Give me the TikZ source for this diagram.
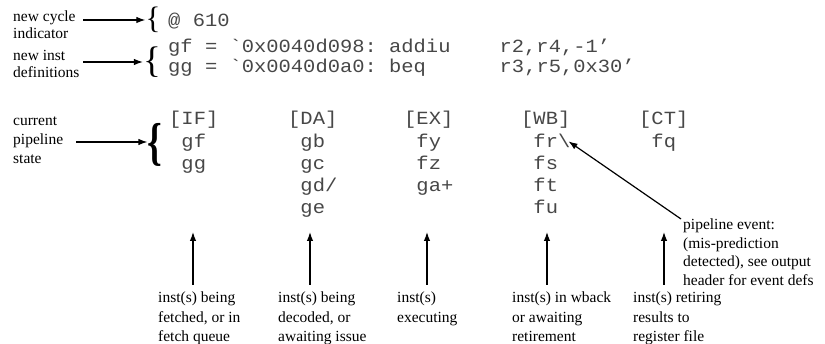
\documentclass[tikz,border=0pt]{standalone}
\usepackage{fontspec}
\setmainfont{Liberation Serif}
\setmonofont[FakeStretch=1.1]{Liberation Mono}
\usetikzlibrary{arrows.meta}
% multi-line labels are placed by the baseline of their last line
\tikzset{
  lbl/.style={anchor=base west, inner sep=0pt, align=left,
              font=\fontsize{15.5}{19.5}\selectfont},
  lbltight/.style={lbl, font=\fontsize{15.5}{17}\selectfont},
  code/.style={anchor=base west, inner sep=0pt,
               font=\ttfamily\fontsize{18.6}{22}\selectfont, text=black!72},
  ptr/.style={-{Latex[length=9pt,width=6.5pt]}, line width=1.2pt},
  brace/.style={inner sep=0pt, anchor=center},
}
\newcommand{\cell}[1]{\hphantom{[}#1}
\begin{document}
\begin{tikzpicture}[x=1pt,y=-1pt]
\useasboundingbox (0,0) rectangle (825,344);

% ---- header: cycle marker and instruction definitions
\node[lbltight] (cyc) at (13,39) {new cycle\\indicator};
\node[lbltight] (defs) at (13,78) {new inst\\definitions};
\node[brace, font=\fontsize{31}{31}\selectfont] (br1) at (153,20) {\{};
\node[brace, font=\fontsize{37}{37}\selectfont] (br2) at (152,62.5) {\{};
\node[code] (cycnum) at (168,27) {@~610};
\node[code] (defgf) at (168,53) {gf~=~`0x0040d098:~addiu~~~~r2,r4,-1’};
\node[code] (defgg) at (168,73) {gg~=~`0x0040d0a0:~beq~~~~~~r3,r5,0x30’};
\coordinate (s1) at (83,20);
\coordinate (s2) at (83,62);
\draw[ptr] (s1) -- (s1 -| br1.west);
\draw[ptr] (s2) -- (s2 -| br2.west);

% ---- current pipeline state
\node[lbl, font=\fontsize{15.5}{19}\selectfont] (cur) at (13,164) {current\\pipeline\\state};
\node[brace, font=\fontsize{52}{52}\selectfont\bfseries] (br3) at (155,145) {\scalebox{0.72}[1]{\{}};
\coordinate (s3) at (76,142);
\draw[ptr] (s3) -- (s3 -| br3.west);

% stage columns
\node[code] (hIF) at (169,125) {[IF]};
\node[code] (if1) at (169,148) {\cell{gf}};
\node[code] (if2) at (169,170) {\cell{gg}};

\node[code] (hDA) at (288,125) {[DA]};
\node[code] (da1) at (288,148) {\cell{gb}};
\node[code] (da2) at (288,170) {\cell{gc}};
\node[code] (da3) at (288,192) {\cell{gd/}};
\node[code] (da4) at (288,214) {\cell{ge}};

\node[code] (hEX) at (404,125) {[EX]};
\node[code] (ex1) at (404,148) {\cell{fy}};
\node[code] (ex2) at (404,170) {\cell{fz}};
\node[code] (ex3) at (404,192) {\cell{ga+}};

\node[code] (hWB) at (521,125) {[WB]};
\node[code] (wb1) at (521,148) {\cell{fr\textbackslash}};
\node[code] (wb2) at (521,170) {\cell{fs}};
\node[code] (wb3) at (521,192) {\cell{ft}};
\node[code] (wb4) at (521,214) {\cell{fu}};

\node[code] (hCT) at (639,125) {[CT]};
\node[code] (ct1) at (639,148) {\cell{fq}};

% ---- stage descriptions
\node[lbl] (lIF) at (158,342) {inst(s) being\\fetched, or in\\fetch queue};
\node[lbl] (lDA) at (278,342) {inst(s) being\\decoded, or\\awaiting issue};
\node[lbl] (lEX) at (397,322.5) {inst(s)\\executing};
\node[lbl] (lWB) at (512,342) {inst(s) in wback\\or awaiting\\retirement};
\node[lbl] (lCT) at (633,342) {inst(s) retiring\\results to\\register file};

\foreach \st/\x in {IF/193, DA/310, EX/427, WB/547, CT/664}{
  \coordinate (u\st) at (\x,285);
  \coordinate (t\st) at (\x,232);
  \draw[ptr] (u\st) -- (t\st);
}

% ---- pipeline event note
\node[lbl, font=\fontsize{15.5}{18.5}\selectfont] (evt) at (683,285.5)
  {pipeline event:\\(mis-prediction\\detected), see output\\header for event defs};
\coordinate (e0) at (681,219);
\draw[ptr] (e0) -- ([xshift=-2pt]wb1.east);
\end{tikzpicture}
\end{document}
